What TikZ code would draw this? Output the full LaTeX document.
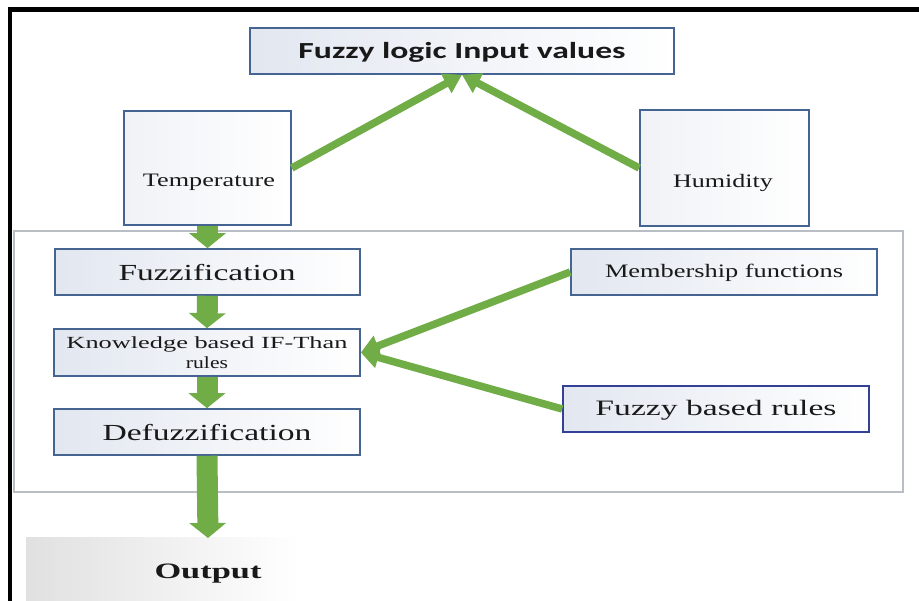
\documentclass[tikz,border=0pt]{standalone}
\usepackage{fontspec}
\setmainfont{Liberation Serif}
\newfontfamily\calib{Carlito}
\usetikzlibrary{arrows.meta}
\definecolor{grn}{HTML}{70AD47}
\definecolor{bord}{RGB}{70,100,145}
\definecolor{bordd}{RGB}{50,65,150}
\definecolor{boxl}{RGB}{226,231,240}
\definecolor{boxll}{RGB}{240,242,246}
\definecolor{panelb}{RGB}{185,190,196}
\newcommand\tw[2]{\resizebox{#1}{\height}{#2}}
\begin{document}
\begin{tikzpicture}[x=1pt,y=-1pt,
  box/.style={draw=bord, line width=1.6pt, left color=boxl, right color=white, inner sep=0pt},
  blk/.style={draw=grn, line width=21pt, -{Triangle[width=36pt,length=15pt]}},
  diag/.style={draw=grn, line width=7.5pt, -{Triangle[width=21pt,length=18pt]}},
  lbl/.style={inner sep=0pt, text=black!90}]
\useasboundingbox[fill=white] (0,0) rectangle (919,601);
% frame
\draw[line width=4.5pt] (10,601) -- (10,9.5) -- (919,9.5);
% panel
\draw[draw=panelb, line width=1.2pt, fill=white] (14,231) rectangle (903,492);
% output background
\shade[left color=black!12, right color=white] (26,538) rectangle (300,601);
\coordinate (outtop) at (208,538);
% boxes
\node[box, minimum width=424pt, minimum height=46pt] (top) at (462,51) {};
\node[lbl, font=\calib\bfseries\fontsize{23}{26}\selectfont] (toplbl) at (462,52) {\tw{327pt}{Fuzzy logic Input values}};
\node[box, left color=boxll, minimum width=167pt, minimum height=114pt] (temp) at (207.5,168) {};
\node[lbl, font=\fontsize{19}{22}\selectfont] (templbl) at (209,182) {\tw{132pt}{Temperature}};
\node[box, left color=boxll, minimum width=169pt, minimum height=116pt] (hum) at (724.5,168) {};
\node[lbl, font=\fontsize{19}{22}\selectfont] (humlbl) at (723,183) {\tw{100pt}{Humidity}};
\node[box, minimum width=305pt, minimum height=46pt] (fuzz) at (207.5,272) {};
\node[lbl, font=\fontsize{23}{26}\selectfont] (fuzzlbl) at (207,273) {\tw{177pt}{Fuzzification}};
\node[box, minimum width=306pt, minimum height=47pt] (know) at (207,352.5) {};
\node[lbl, font=\fontsize{17}{20}\selectfont, align=center] (knowlbl) at (207,352.5) {\tw{281pt}{Knowledge based IF-Than}\\\tw{42pt}{rules}};
\node[box, minimum width=306pt, minimum height=46pt] (defuzz) at (207,432) {};
\node[lbl, font=\fontsize{23}{26}\selectfont] (defuzzlbl) at (207,433) {\tw{209pt}{Defuzzification}};
\node[box, minimum width=306pt, minimum height=46pt] (memb) at (724,272) {};
\node[lbl, font=\fontsize{19}{22}\selectfont] (memblbl) at (724,273) {\tw{238pt}{Membership functions}};
\node[box, draw=bordd, minimum width=306pt, minimum height=46pt] (rules) at (716,409) {};
\node[lbl, font=\fontsize{22}{25}\selectfont] (ruleslbl) at (716,410) {\tw{241pt}{Fuzzy based rules}};
\node[lbl, font=\bfseries\fontsize{22}{25}\selectfont] (out) at (208,574) {\tw{107pt}{Output}};
% arrows
\draw[diag] (temp.east) -- (top.south);
\draw[diag] (hum.west) -- (top.south);
\draw[diag] (memb.west) -- (know.east);
\draw[diag] (rules.west) -- (know.east);
\draw[blk] (temp.south) -- (fuzz.north);
\draw[blk] (fuzz.south) -- (know.north);
\draw[blk] (know.south) -- (defuzz.north);
\draw[blk] (defuzz.south) -- (outtop);
\end{tikzpicture}
\end{document}
